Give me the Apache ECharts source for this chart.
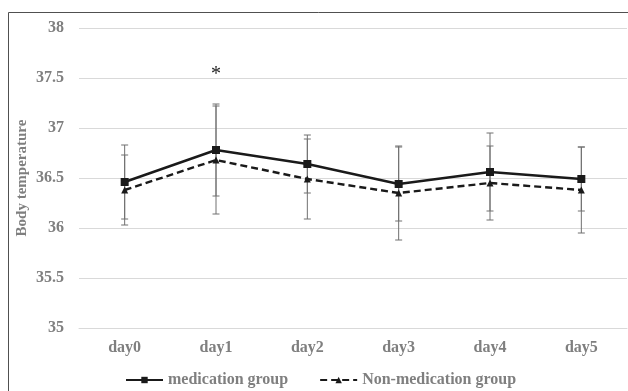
<!DOCTYPE html>
<html><head><meta charset="utf-8">
<script src="https://cdn.jsdelivr.net/npm/echarts@6/dist/echarts.min.js"></script>
<style>html,body{margin:0;padding:0;background:#fff}#c{width:628px;height:391px}</style>
</head><body><div id="c"></div>
<script>
var categories = ['day0','day1','day2','day3','day4','day5'];
var medMean = [36.46, 36.78, 36.64, 36.44, 36.56, 36.49];
var medSD   = [0.37, 0.46, 0.29, 0.37, 0.39, 0.32];
var nonMean = [36.38, 36.68, 36.49, 36.35, 36.45, 36.38];
var nonSD   = [0.35, 0.54, 0.40, 0.47, 0.37, 0.43];
var yTicks = [35, 35.5, 36, 36.5, 37, 37.5, 38];
var sigDay = 'day1';
var sigValue = 37.53;

var font = '"Liberation Serif","Times New Roman",serif';
var grey = '#7f7f7f';

function errData(mean, sd){
  return mean.map(function(m,i){ return [i, +(m-sd[i]).toFixed(2), +(m+sd[i]).toFixed(2)]; });
}
function renderErr(params, api){
  var x = api.value(0);
  var lo = api.coord([x, api.value(1)]);
  var hi = api.coord([x, api.value(2)]);
  var w = 3.5;
  var st = {stroke:'#707070', lineWidth:1};
  return {type:'group', children:[
    {type:'line', shape:{x1:hi[0],y1:hi[1],x2:lo[0],y2:lo[1]}, style:st},
    {type:'line', shape:{x1:hi[0]-w,y1:hi[1],x2:hi[0]+w,y2:hi[1]}, style:st},
    {type:'line', shape:{x1:lo[0]-w,y1:lo[1],x2:lo[0]+w,y2:lo[1]}, style:st}
  ]};
}

var chart = echarts.init(document.getElementById('c'), null, {renderer:'canvas'});
chart.setOption({
  animation:false,
  backgroundColor:'#fff',
  graphic:[{type:'rect', shape:{x:8.5,y:12.5,width:700,height:500}, style:{fill:'none',stroke:'#505050',lineWidth:1}, z:-1}],
  grid:{left:79, right:1, top:28, bottom:63},
  legend:{
    left:125, top:372, padding:0, itemWidth:37, itemHeight:8, itemGap:31,
    textStyle:{fontFamily:font, fontWeight:'bold', fontSize:16, color:grey},
    data:['medication group','Non-medication group']
  },
  xAxis:{
    type:'category', data:categories, boundaryGap:true,
    axisLine:{show:true, lineStyle:{color:'#d9d9d9'}}, axisTick:{show:false},
    axisLabel:{fontFamily:font, fontWeight:'bold', fontSize:16, color:grey, margin:12}
  },
  yAxis:{
    type:'value', min:yTicks[0], max:yTicks[yTicks.length-1], interval:0.5,
    name:'Body temperature', nameLocation:'middle', nameGap:49, nameRotate:90, nameMoveOverlap:false,
    nameTextStyle:{fontFamily:font, fontWeight:'bold', fontSize:15, color:grey},
    axisLine:{show:false}, axisTick:{show:false},
    axisLabel:{fontFamily:font, fontWeight:'bold', fontSize:16, color:grey, margin:15},
    splitLine:{lineStyle:{color:'#d9d9d9', width:1}}
  },
  series:[
    {name:'medErr', type:'custom', renderItem:renderErr, data:errData(medMean,medSD), encode:{x:0,y:[1,2]}, z:1, silent:true},
    {name:'nonErr', type:'custom', renderItem:renderErr, data:errData(nonMean,nonSD), encode:{x:0,y:[1,2]}, z:1, silent:true},
    {name:'medication group', type:'line', data:medMean, symbol:'rect', symbolSize:8,
     lineStyle:{color:'#1a1a1a', width:2.4, type:'solid'}, itemStyle:{color:'#1a1a1a'}, z:3,
     markPoint:{symbol:'circle', symbolSize:0, label:{show:true, position:'inside', formatter:'*', fontFamily:font, fontSize:20, color:'#222'},
       data:[{coord:[sigDay, sigValue]}]}},
    {name:'Non-medication group', type:'line', data:nonMean, symbol:'triangle', symbolSize:7,
     lineStyle:{color:'#1a1a1a', width:2.4, type:[7,4]}, itemStyle:{color:'#1a1a1a'}, z:2}
  ]
});
</script></body></html>
